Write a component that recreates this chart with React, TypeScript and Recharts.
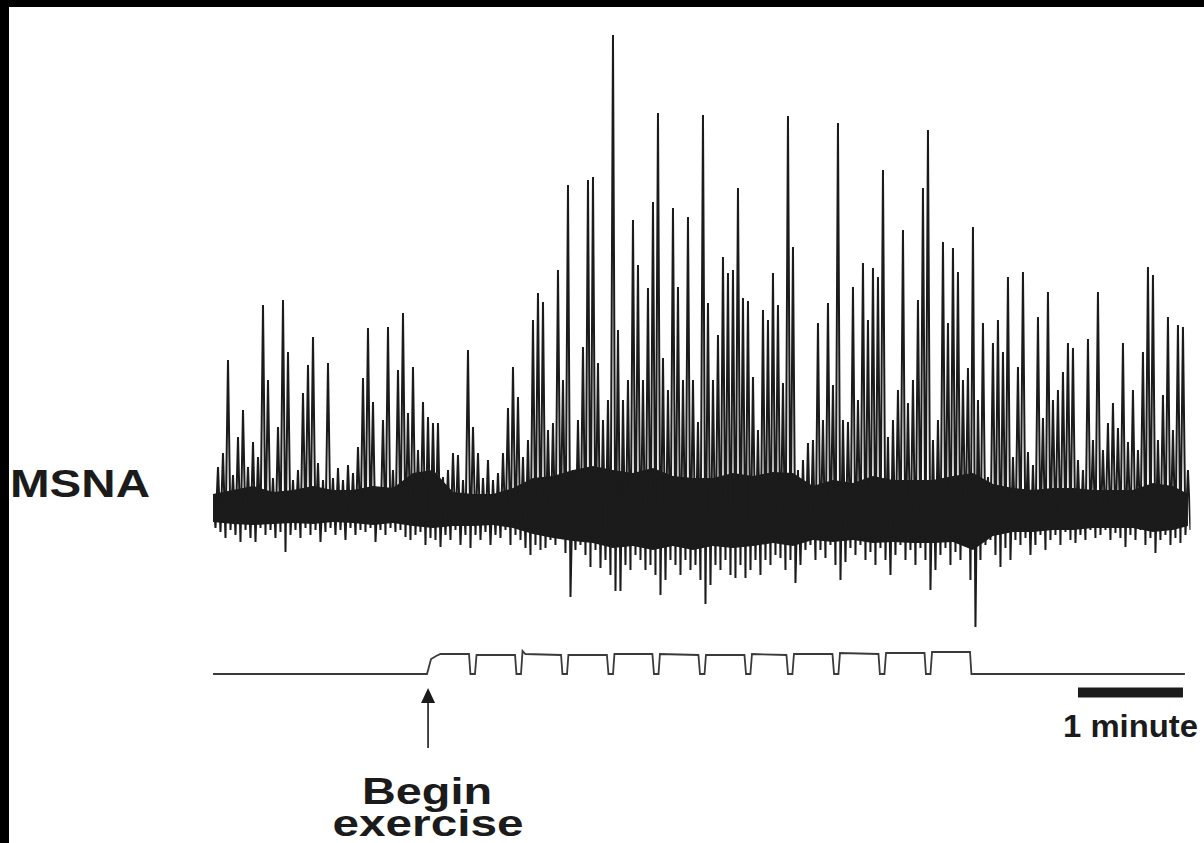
import React from 'react'
import { ComposedChart, Line, Area, XAxis, YAxis, ReferenceLine } from 'recharts'

// MSNA trace, read every 5 px of the original figure (one sample = 2.857 s).
// Each sample has an upper excursion and a lower excursion, amplitude in a.u.
const SAMPLE_SEC = 60 / 21
const MSNA_HI = [
  13, 41, 55, 148, 33, 71, 98, 41, 66, 51,
  203, 128, 30, 81, 208, 156, 28, 38, 115, 143,
  171, 45, 28, 145, 30, 40, 28, 43, 35, 61,
  130, 180, 106, 21, 88, 181, 38, 138, 195, 95,
  141, 58, 106, 91, 85, 85, 31, 38, 55, 53,
  28, 158, 81, 55, 30, 48, 28, 35, 55, 100,
  141, 111, 51, 68, 188, 215, 206, 78, 85, 238,
  128, 323, 38, 88, 161, 328, 331, 145, 88, 108,
  473, 178, 108, 128, 288, 243, 128, 220, 306, 395,
  150, 118, 300, 221, 128, 291, 128, 86, 393, 205,
  128, 173, 251, 235, 238, 320, 210, 207, 131, 78,
  198, 188, 235, 203, 125, 392, 261, 38, 48, 65,
  68, 185, 88, 205, 123, 385, 88, 86, 221, 108,
  245, 188, 240, 231, 338, 71, 88, 118, 278, 105,
  128, 208, 320, 378, 68, 88, 266, 185, 260, 236,
  128, 140, 281, 108, 185, 31, 165, 188, 156, 231,
  51, 141, 236, 56, 43, 191, 90, 216, 108, 118,
  136, 165, 160, 48, 38, 169, 68, 216, 58, 85,
  105, 80, 165, 66, 118, 58, 156, 241, 233, 68,
  113, 191, 78, 183, 181, 38,
]
const MSNA_LO = [
  -20, -24, -30, -22, -27, -34, -22, -30, -34, -20,
  -27, -22, -30, -24, -44, -27, -22, -30, -20, -27,
  -22, -34, -24, -20, -27, -22, -32, -20, -27, -22,
  -24, -20, -34, -22, -27, -20, -24, -22, -29, -32,
  -27, -24, -37, -30, -32, -39, -27, -32, -22, -37,
  -27, -40, -27, -32, -24, -37, -27, -30, -22, -37,
  -27, -32, -40, -47, -37, -42, -40, -32, -37, -27,
  -45, -89, -42, -37, -47, -59, -42, -60, -52, -67,
  -83, -83, -57, -62, -47, -52, -62, -57, -67, -87,
  -72, -52, -57, -67, -52, -62, -57, -72, -96, -77,
  -57, -62, -52, -67, -70, -57, -70, -62, -52, -67,
  -52, -57, -47, -50, -62, -52, -75, -57, -42, -37,
  -52, -42, -50, -37, -57, -72, -54, -40, -47, -37,
  -52, -44, -57, -40, -52, -67, -47, -37, -52, -42,
  -57, -40, -52, -82, -62, -47, -40, -57, -44, -52,
  -37, -72, -119, -52, -37, -32, -47, -59, -40, -52,
  -32, -37, -30, -47, -37, -27, -42, -32, -27, -37,
  -24, -32, -35, -27, -32, -22, -30, -27, -22, -32,
  -25, -30, -39, -27, -32, -22, -37, -30, -45, -32,
  -27, -37, -30, -35, -27, -22,
]

// dense background-noise band of the recording, read every 4 samples (last one at the end)
const CORE_TOP = [
  14, 18, 22, 16, 18, 22, 18, 18, 22, 20,
  35, 38, 16, 14, 14, 20, 30, 32, 38, 42,
  38, 35, 40, 32, 30, 30, 35, 32, 36, 35,
  22, 28, 25, 32, 28, 28, 28, 32, 35, 24,
  20, 18, 20, 20, 18, 18, 18, 25, 22, 14,
]
const CORE_BOTTOM = [
  -14, -16, -17, -16, -15, -16, -14, -15, -17, -15,
  -18, -20, -18, -18, -17, -20, -26, -30, -33, -35,
  -40, -38, -42, -38, -42, -38, -40, -38, -35, -38,
  -32, -34, -32, -35, -34, -35, -35, -34, -42, -28,
  -24, -24, -22, -22, -20, -20, -20, -24, -22, -18,
]

// exercise marker trace (handgrip contractions), time in s, level 0 = rest
const EX_TIME = [
  0, 122.3, 124.6, 127.5, 130, 146.3, 147.1, 149.7, 150.6,
  172.6, 173.4, 176.0, 176.9, 178.5, 198.9, 199.7, 202.3, 203.1,
  225.1, 226.0, 228.6, 229.4, 251.1, 252.0, 254.6, 255.4,
  277.4, 278.3, 280.9, 281.7, 303.7, 304.6, 307.1, 308.0,
  327.7, 328.6, 331.1, 332.0, 354.0, 354.9, 357.4, 358.3,
  380.3, 381.1, 383.7, 384.6, 406.6, 407.4, 410.0, 410.9,
  432.6, 433.4, 555.4,
]
const EX_LEVEL = [
  0, 0, 0.75, 0.9, 1.0, 1.0, 0, 0, 0.95,
  0.95, 0, 0, 1.15, 1.0, 0.95, 0, 0, 0.95,
  0.95, 0, 0, 1.0, 1.0, 0, 0, 1.0,
  0.95, 0, 0, 0.95, 0.95, 0, 0, 1.0,
  0.95, 0, 0, 1.0, 1.0, 0, 0, 1.05,
  1.0, 0, 0, 1.05, 1.05, 0, 0, 1.1,
  1.1, 0, 0,
]

const EXERCISE_START = 122.9
const SCALE_BAR_START = 494.3
const SCALE_BAR_LEN = 60

const msnaData = MSNA_HI.flatMap((hi, i) => [
  { t: i * SAMPLE_SEC, v: hi },
  { t: i * SAMPLE_SEC + SAMPLE_SEC / 2, v: MSNA_LO[i] },
])
const coreData = CORE_TOP.map((top, k) => ({
  t: Math.min(k * 4, MSNA_HI.length - 1) * SAMPLE_SEC,
  band: [CORE_BOTTOM[k], top],
}))
const exData = EX_TIME.map((t, i) => ({ t, v: EX_LEVEL[i] }))

const INK = '#1b1b1b'
const FONT = '"Liberation Sans", Arial, Helvetica, sans-serif'

function Arrow(props: any) {
  const { x1, y1, x2, y2 } = props
  const top = Math.min(y1, y2)
  const bottom = Math.max(y1, y2)
  return (
    <g>
      <line x1={x1} y1={top + 12} x2={x2} y2={bottom} stroke={INK} strokeWidth={1.6} />
      <polygon points={`${x1},${top} ${x1 - 7},${top + 15} ${x1 + 7},${top + 15}`} fill={INK} />
    </g>
  )
}

export default function App() {
  return (
    <div style={{ position: 'absolute', left: 0, top: 0, width: 1204, height: 843, background: '#000', overflow: 'hidden' }}>
      <div style={{ position: 'absolute', left: 9, top: 7, width: 1195, height: 836, background: '#fff' }} />
      <div style={{ position: 'absolute', left: 0, top: 0 }}>
        <ComposedChart width={1204} height={843} margin={{ top: 28, left: 213, right: 13.5, bottom: 93 }}>
          <XAxis dataKey="t" type="number" domain={[0, 558.6]} allowDataOverflow hide />
          <YAxis yAxisId="msna" type="number" domain={[-242, 480]} allowDataOverflow hide />
          <YAxis yAxisId="ex" type="number" domain={[-3.8, 32.3]} allowDataOverflow hide />
          <Area
            yAxisId="msna"
            data={coreData}
            dataKey="band"
            type="linear"
            stroke="none"
            fill={INK}
            fillOpacity={1}
            isAnimationActive={false}
          />
          <Line
            yAxisId="msna"
            data={msnaData}
            dataKey="v"
            type="linear"
            stroke={INK}
            strokeWidth={2}
            dot={false}
            isAnimationActive={false}
          />
          <Line
            yAxisId="ex"
            data={exData}
            dataKey="v"
            type="linear"
            stroke="#3a3a3a"
            strokeWidth={1.8}
            dot={false}
            isAnimationActive={false}
          />
          <ReferenceLine
            yAxisId="ex"
            segment={[{ x: SCALE_BAR_START, y: -0.925 }, { x: SCALE_BAR_START + SCALE_BAR_LEN, y: -0.925 }]}
            stroke={INK}
            strokeWidth={10}
          />
          <ReferenceLine
            yAxisId="ex"
            segment={[{ x: EXERCISE_START, y: -0.7 }, { x: EXERCISE_START, y: -3.7 }]}
            shape={Arrow}
          />
        </ComposedChart>
      </div>
      <svg width={1204} height={843} style={{ position: 'absolute', left: 0, top: 0, pointerEvents: 'none' }}>
        <g fontFamily={FONT} fontWeight="bold" fill={INK}>
          <text x={10} y={497} fontSize={38} textLength={140} lengthAdjust="spacingAndGlyphs">MSNA</text>
          <text x={427} y={804} fontSize={37} textAnchor="middle" textLength={130} lengthAdjust="spacingAndGlyphs">Begin</text>
          <text x={428} y={836} fontSize={37} textAnchor="middle" textLength={191} lengthAdjust="spacingAndGlyphs">exercise</text>
          <text x={1063} y={737} fontSize={31} textLength={135} lengthAdjust="spacingAndGlyphs">1 minute</text>
        </g>
      </svg>
    </div>
  )
}
